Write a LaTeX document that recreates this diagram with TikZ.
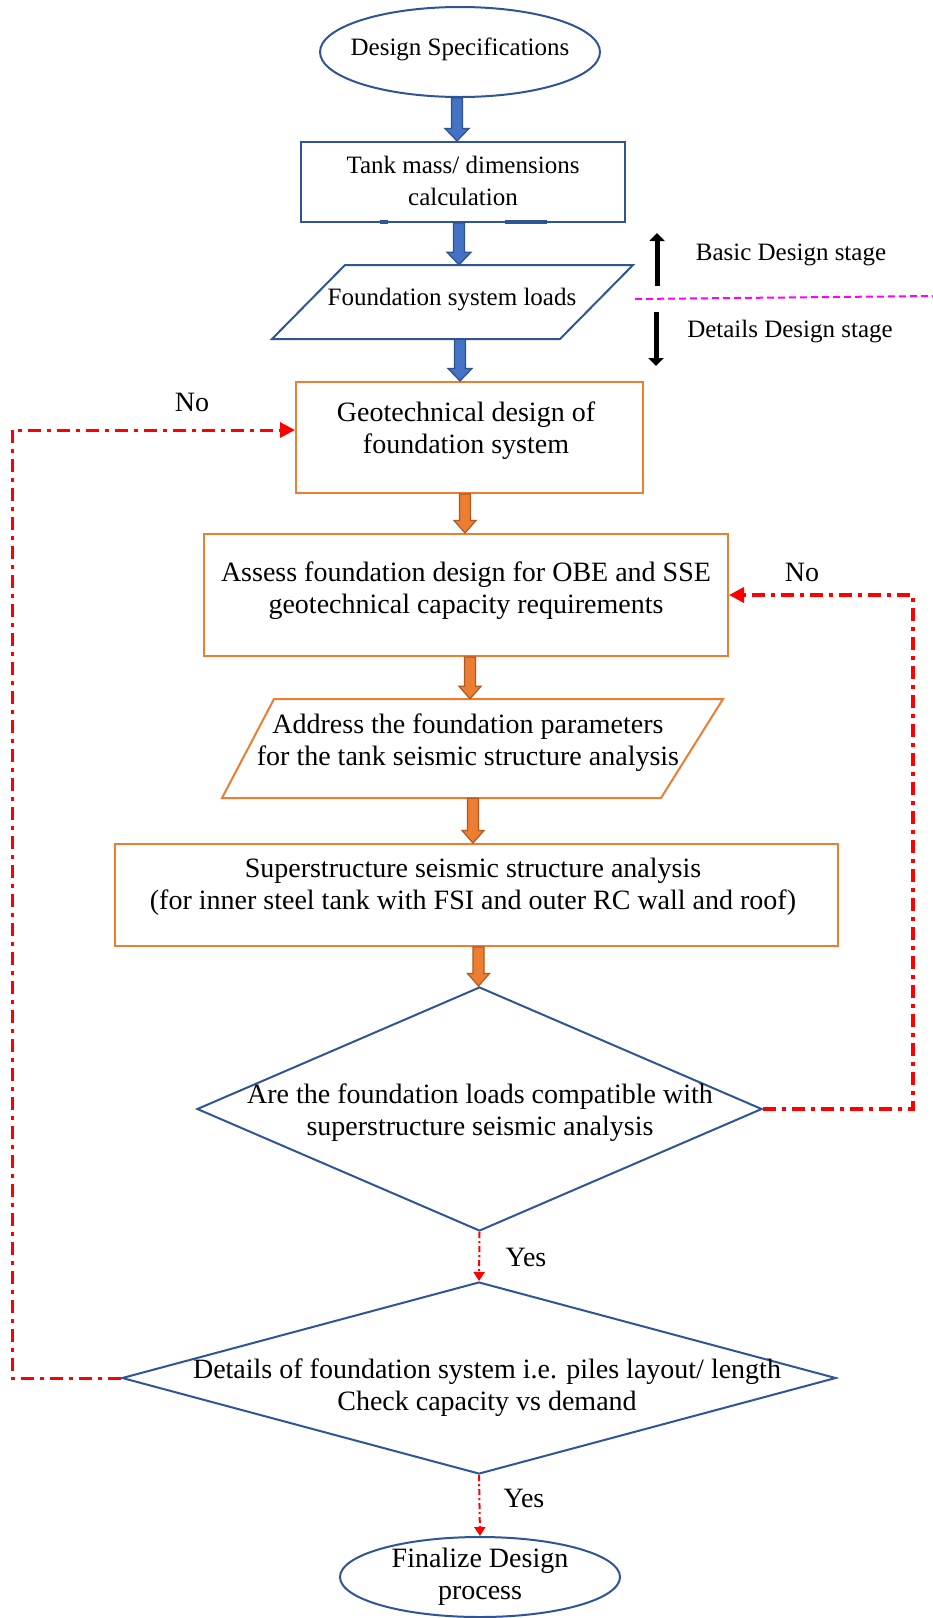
\documentclass[tikz,border=0pt]{standalone}
\usepackage{fontspec}
\setmainfont{Liberation Serif}
\usetikzlibrary{shapes.geometric,arrows.meta,calc}
\definecolor{bblue}{HTML}{2F5597}
\definecolor{afill}{HTML}{4472C4}
\definecolor{aline}{HTML}{2F528F}
\definecolor{oline}{HTML}{ED7D31}
\definecolor{ofill}{HTML}{ED7D31}
\definecolor{odark}{HTML}{AE5A21}
\definecolor{rred}{HTML}{FF0000}
\definecolor{mag}{HTML}{FF00FF}
% fat block arrow: from, to, x, fill, draw, half head width
\newcommand\fatarrow[6]{%
 \path[fill=#4,draw=#5,line width=1.2pt,line join=miter] let \p1=(#1.south), \p2=(#2.north), \p3=(#3,0) in
 (\x3-5.5pt,\y1) -- (\x3-5.5pt,\y2+12.5pt) -- (\x3-#6,\y2+12.5pt) -- (\x3,\y2) -- (\x3+#6,\y2+12.5pt) -- (\x3+5.5pt,\y2+12.5pt) -- (\x3+5.5pt,\y1) -- cycle;}
\tikzset{
 txtA/.style={font=\fontsize{25}{32}\selectfont, align=center, inner sep=0pt},
 txtB/.style={font=\fontsize{28}{32}\selectfont, align=center, inner sep=0pt},
 bluebox/.style={draw=bblue, line width=2pt, inner sep=0pt},
 orgbox/.style={draw=oline, line width=2pt, inner sep=0pt},
 blank/.style={inner sep=0pt},
 noloop/.style={draw=rred, line width=3.5pt, dash pattern=on 13pt off 6pt on 4pt off 6pt, -{Triangle[length=15pt,width=15pt]}},
 yesarr/.style={draw=rred, line width=2pt, dash pattern=on 6pt off 3pt on 2pt off 3pt, -{Triangle[length=9pt,width=11pt]}},
 stagearr/.style={draw=black, line width=5pt, -{Triangle[length=8pt,width=15pt]}},
}
\begin{document}
\begin{tikzpicture}[x=1pt,y=-1pt]
\useasboundingbox (0,0) rectangle (933,1618);
\fill[white] (0,0) rectangle (933,1618);

% --- blue upper part
\node[bluebox, ellipse, minimum width=280pt, minimum height=90pt] (spec) at (460,52) {};
\node[txtA] (specT) at (460,49) {Design Specifications};

\node[bluebox, minimum width=324pt, minimum height=80pt] (tank) at (463,182) {};
\node[txtA] (tankT) at (463,181) {Tank mass/ dimensions\\calculation};
\draw[bblue, line width=4pt] (380,222) -- (388,222);
\draw[bblue, line width=4pt] (505,222) -- (547,222);

\node[blank, minimum width=288pt, minimum height=74pt] (loads) at (452.5,302) {};
\draw[bblue, line width=2pt, line join=miter] (345,265) -- (633,265) -- (560,339) -- (272,339) -- cycle;
\node[txtA] (loadsT) at (452,300) {Foundation system loads};

% --- orange part
\node[orgbox, minimum width=347pt, minimum height=111pt] (geo) at (469.5,437.5) {};
\node[txtB] (geoT) at (466,431) {Geotechnical design of\\foundation system};

\node[orgbox, minimum width=524pt, minimum height=122pt] (assess) at (466,595) {};
\node[txtB] (assessT) at (466,591) {Assess foundation design for OBE and SSE\\geotechnical capacity requirements};

\node[blank, minimum width=420pt, minimum height=99pt] (address) at (472.5,748.5) {};
\draw[oline, line width=2pt, line join=miter] (274,699) -- (723,699) -- (661,798) -- (222,798) -- cycle;
\node[txtB] (addressT) at (468,743) {Address the foundation parameters\\for the tank seismic structure analysis};

\node[orgbox, minimum width=723pt, minimum height=102pt] (super) at (476.5,895) {};
\node[txtB] (superT) at (473,887) {Superstructure seismic structure analysis\\(for inner steel tank with FSI and outer RC wall and roof)};

% --- decisions
\node[bluebox, diamond, minimum width=565pt, minimum height=244pt] (d1) at (479.5,1109) {};
\node[txtB] (d1T) at (480,1113) {Are the foundation loads compatible with\\superstructure seismic analysis};

\node[bluebox, diamond, minimum width=714pt, minimum height=192pt] (d2) at (479,1378) {};
\node[txtB] (d2T) at (487,1388) {Details of foundation system i.e. piles layout/ length\\Check capacity vs demand};

\node[bluebox, ellipse, minimum width=280pt, minimum height=80pt] (fin) at (480,1577) {};
\node[txtB] (finT) at (480,1577) {Finalize Design\\process};

% --- block arrows
\fatarrow{spec}{tank}{457}{afill}{aline}{12pt}
\fatarrow{tank}{loads}{459}{afill}{aline}{12pt}
\fatarrow{loads}{geo}{460}{afill}{aline}{12pt}
\fatarrow{geo}{assess}{465}{ofill}{odark}{11pt}
\fatarrow{assess}{address}{470}{ofill}{odark}{11pt}
\fatarrow{address}{super}{473}{ofill}{odark}{11pt}
\fatarrow{super}{d1}{478.5}{ofill}{odark}{11pt}

% --- decision connectors
\draw[noloop] (d1.east) -- ++(150,0) |- (assess.east);
\node[txtB] (no1) at (802,572) {No};
\draw[noloop, line width=3pt] (d2.west) -- ++(-109,0) |- ([yshift=7.5pt]geo.west);
\node[txtB] (no2) at (192,402) {No};
\draw[yesarr] (d1.south) -- (d2.north);
\node[txtB] (yes1) at (526,1257) {Yes};
\draw[yesarr] (d2.south) -- (fin.north);
\node[txtB] (yes2) at (524,1498) {Yes};

% --- stage markers
\coordinate (upB) at (657,286);
\coordinate (upT) at (657,233);
\coordinate (dnT) at (656,312);
\coordinate (dnB) at (656,366);
\draw[stagearr] (upB) -- (upT);
\draw[stagearr] (dnT) -- (dnB);
\coordinate (mgA) at (635,299);
\coordinate (mgB) at (933,296);
\draw[mag, line width=2pt, dash pattern=on 7pt off 4pt] (mgA) -- (mgB);
\node[txtA] (basicT) at (791,255) {Basic Design stage};
\node[txtA] (detT) at (790,332) {Details Design stage};
\end{tikzpicture}
\end{document}
